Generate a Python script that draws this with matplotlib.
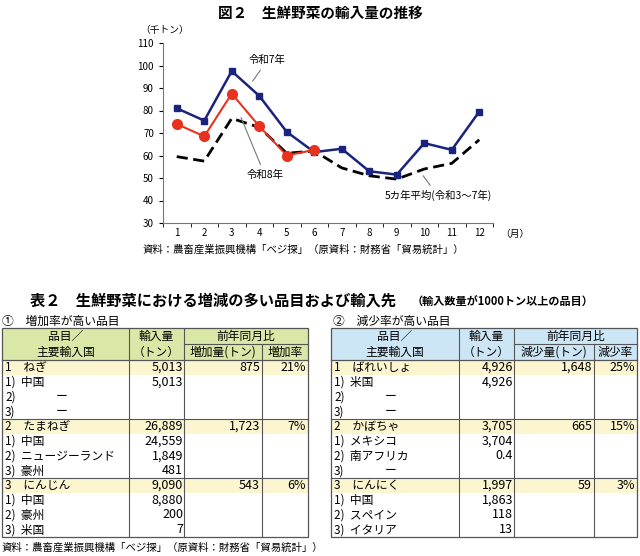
import matplotlib.pyplot as plt
import matplotlib.patches as patches

plt.rcParams['font.family'] = ['Noto Sans CJK JP', 'DejaVu Sans']

months = list(range(1, 13))
r7 = [81, 75.5, 97.5, 86.5, 70.5, 61.5, 63, 53, 51.5, 65.5, 62.5, 79.5]
r8 = [74, 68.5, 87.5, 73, 60, 62.5]
avg5 = [59.5, 57.5, 76.5, 72.5, 61, 62, 54.5, 51, 49.5, 54, 56.5, 67]

inc_rows = [("1\u3000ねぎ", "5,013", "875", "21%", True),
            ("1)  中国", "5,013", "", "", False),
            ("2)", "", "", "", False),
            ("3)", "", "", "", False),
            ("2\u3000たまねぎ", "26,889", "1,723", "7%", True),
            ("1)  中国", "24,559", "", "", False),
            ("2)  ニュージーランド", "1,849", "", "", False),
            ("3)  豪州", "481", "", "", False),
            ("3\u3000にんじん", "9,090", "543", "6%", True),
            ("1)  中国", "8,880", "", "", False),
            ("2)  豪州", "200", "", "", False),
            ("3)  米国", "7", "", "", False)]
dec_rows = [("1\u3000ばれいしょ", "4,926", "1,648", "25%", True),
            ("1)  米国", "4,926", "", "", False),
            ("2)", "", "", "", False),
            ("3)", "", "", "", False),
            ("2\u3000かぼちゃ", "3,705", "665", "15%", True),
            ("1)  メキシコ", "3,704", "", "", False),
            ("2)  南アフリカ", "0.4", "", "", False),
            ("3)", "", "", "", False),
            ("3\u3000にんにく", "1,997", "59", "3%", True),
            ("1)  中国", "1,863", "", "", False),
            ("2)  スペイン", "118", "", "", False),
            ("3)  イタリア", "13", "", "", False)]
dash_rows = {2, 3}

W, H = 640, 556
fig = plt.figure(figsize=(W / 100, H / 100), dpi=100)
bg = fig.add_axes([0, 0, 1, 1])
bg.set_xlim(0, W)
bg.set_ylim(H, 0)
bg.axis('off')

# chart
ax = fig.add_axes([163 / W, 1 - 223 / H, (493 - 163) / W, (223 - 43) / H])
ax.plot(months, avg5, color='black', lw=2, ls=(0, (4, 2)), zorder=2)
ax.plot(months, r7, color='#1a237e', lw=1.8, marker='s', ms=4, zorder=3)
ax.plot(months[:len(r8)], r8, color='#e8321e', lw=1.5, marker='o', ms=7, zorder=4)
ax.set_xlim(0.5, 12.5)
ax.set_ylim(30, 110)
ax.set_yticks(range(30, 111, 10))
ax.set_xticks(months)
ax.tick_params(labelsize=7, length=3, direction='out')
ax.set_xticks([x + 0.5 for x in range(0, 13)], minor=True)
ax.tick_params(axis='x', which='major', length=0)
ax.tick_params(axis='x', which='minor', length=3)
for s in ['top', 'right']:
    ax.spines[s].set_visible(False)
for s in ['left', 'bottom']:
    ax.spines[s].set_color('#777777')

ax.annotate("令和7年", xy=(3.7, 92), xytext=(4.3, 101), fontsize=7.5, ha='center',
            arrowprops=dict(arrowstyle='-', color='#777777', lw=0.8))
ax.annotate("令和8年", xy=(3.3, 78), xytext=(4.2, 50), fontsize=7.5, ha='center',
            arrowprops=dict(arrowstyle='-', color='#777777', lw=0.8))
ax.annotate("5カ年平均(令和3～7年)", xy=(9.9, 52), xytext=(10.5, 40.5), fontsize=7.5, ha='center',
            arrowprops=dict(arrowstyle='-', color='#777777', lw=0.8))

bg.text(320, 13, "図２　生鮮野菜の輸入量の推移", fontsize=10.5, fontweight='bold', ha='center', va='center')
bg.text(140, 30, "（千トン）", fontsize=7, va='center')
bg.text(500, 234, "（月）", fontsize=7, va='center')
bg.text(143, 250, "資料：農畜産業振興機構「ベジ探」（原資料：財務省「貿易統計」）", fontsize=7.5, va='center')

bg.text(30, 301, "表２　生鮮野菜における増減の多い品目および輸入先", fontsize=11, fontweight='bold', va='center')
bg.text(412, 302, "（輸入数量が1000トン以上の品目）", fontsize=8, fontweight='bold', va='center')
bg.text(2, 321, "①　増加率が高い品目", fontsize=8.5, va='center')
bg.text(333, 321, "②　減少率が高い品目", fontsize=8.5, va='center')
bg.text(2, 548, "資料：農畜産業振興機構「ベジ探」（原資料：財務省「貿易統計」）", fontsize=7.5, va='center')


def draw_table(cols, rows, hdr_color, sub1, sub2):
    top, hdr_bot, bot = 328, 360, 537
    rh = (bot - hdr_bot) / len(rows)
    x0, x1, x2, x3, x4 = cols
    bg.add_patch(patches.Rectangle((x0, top), x4 - x0, hdr_bot - top, color=hdr_color, lw=0))
    for i, r in enumerate(rows):
        y = hdr_bot + i * rh
        if r[4]:
            bg.add_patch(patches.Rectangle((x0, y), x4 - x0, rh, color='#fbf6cf', lw=0))
        if r[4] and i > 0:
            bg.plot([x0, x4], [y, y], color='#555555', lw=0.8)
        bg.text(x0 + 3, y + rh / 2, r[0], fontsize=8.5, va='center')
        if i % 4 in dash_rows and r[1] == "":
            bg.text(x0 + 60, y + rh / 2, "ー", fontsize=8.5, va='center', ha='center')
        bg.text(x2 - 1, y + rh / 2, r[1], fontsize=9, va='center', ha='right')
        bg.text(x3 - 2, y + rh / 2, r[2], fontsize=9, va='center', ha='right')
        bg.text(x4 - 2, y + rh / 2, r[3], fontsize=9, va='center', ha='right')
    lc = '#555555'
    bg.add_patch(patches.Rectangle((x0, top), x4 - x0, bot - top, fill=False, ec=lc, lw=0.9))
    bg.plot([x0, x4], [hdr_bot, hdr_bot], color=lc, lw=0.9)
    for x in (x1, x2):
        bg.plot([x, x], [top, bot], color=lc, lw=0.8)
    bg.plot([x3, x3], [(top + hdr_bot) / 2, bot], color=lc, lw=0.8)
    bg.plot([x2, x4], [(top + hdr_bot) / 2, (top + hdr_bot) / 2], color=lc, lw=0.8)
    hm = (top + hdr_bot) / 2
    bg.text((x0 + x1) / 2, top + 8, "品目／", fontsize=8.5, ha='center', va='center')
    bg.text((x0 + x1) / 2, hm + 8, "主要輸入国", fontsize=8.5, ha='center', va='center')
    bg.text((x1 + x2) / 2, top + 8, "輸入量", fontsize=8.5, ha='center', va='center')
    bg.text((x1 + x2) / 2, hm + 8, "（トン）", fontsize=8.5, ha='center', va='center')
    bg.text((x2 + x4) / 2, top + 8, "前年同月比", fontsize=8.5, ha='center', va='center')
    bg.text((x2 + x3) / 2, hm + 8, sub1, fontsize=8.5, ha='center', va='center')
    bg.text((x3 + x4) / 2, hm + 8, sub2, fontsize=8.5, ha='center', va='center')


draw_table((2, 129, 184, 262, 308), inc_rows, '#d9e8a6', "増加量(トン)", "増加率")
draw_table((331, 459, 514, 594, 637), dec_rows, '#cde6f6', "減少量(トン)", "減少率")

fig.savefig('out.png', dpi=100)
